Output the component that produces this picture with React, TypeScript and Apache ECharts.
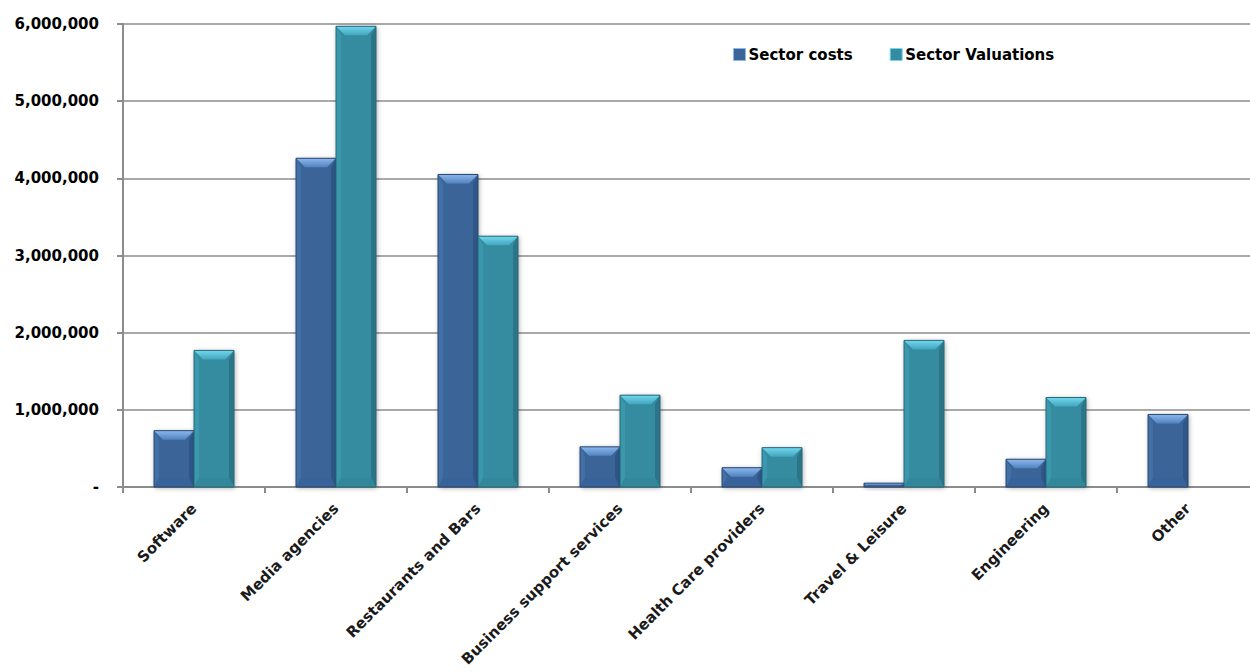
import React, { useEffect, useRef } from "react";
import * as echarts from "echarts";

const categories = [
  "Software",
  "Media agencies",
  "Restaurants and Bars",
  "Business support services",
  "Health Care providers",
  "Travel & Leisure",
  "Engineering",
  "Other",
];
const sectorCosts = [730000, 4260000, 4050000, 520000, 250000, 50000, 360000, 940000];
const sectorValuations = [1770000, 5970000, 3250000, 1190000, 510000, 1900000, 1160000, null];
const yTicks = [0, 1000000, 2000000, 3000000, 4000000, 5000000, 6000000];

const FONT = "DejaVu Sans";

const palettes = {
  cost: {
    main: "#3B6599",
    topA: "#8BB8EC",
    topB: "#5283C0",
    bottom: "#38629A",
    left: "#4270A6",
    right: "#30568A",
    border: "#2A4870",
  },
  val: {
    main: "#358B9F",
    topA: "#72D8EE",
    topB: "#42A6BE",
    bottom: "#33879A",
    left: "#3A97AC",
    right: "#2C7587",
    border: "#276A7A",
  },
};

function makeRenderItem(side: number, pal: any) {
  return (params: any, api: any) => {
    const idx = api.value(0);
    const val = api.value(1);
    if (val == null || isNaN(val) || val <= 0) return null;
    const top = api.coord([idx, val]);
    const base = api.coord([idx, 0]);
    const band = api.size([1, 0])[0];
    const w = band * (40 / 142);
    const x0 = side < 0 ? top[0] - w : top[0];
    const x1 = x0 + w;
    const y0 = top[1];
    const y1 = base[1];
    const h = y1 - y0;
    const b = Math.min(9, h / 2);
    const sb = Math.min(5, w / 4);
    return {
      type: "group",
      children: [
        {
          type: "rect",
          shape: { x: x0, y: y0, width: w, height: h },
          style: {
            fill: pal.main,
            shadowBlur: 5,
            shadowColor: "rgba(0,0,0,0.35)",
            shadowOffsetX: 1,
            shadowOffsetY: 1,
          },
        },
        {
          type: "polygon",
          shape: {
            points: [
              [x0, y0],
              [x0 + sb, y0 + b],
              [x0 + sb, y1 - b],
              [x0, y1],
            ],
          },
          style: { fill: pal.left },
        },
        {
          type: "polygon",
          shape: {
            points: [
              [x1, y0],
              [x1 - sb, y0 + b],
              [x1 - sb, y1 - b],
              [x1, y1],
            ],
          },
          style: { fill: pal.right },
        },
        {
          type: "polygon",
          shape: {
            points: [
              [x0, y1],
              [x0 + sb, y1 - b],
              [x1 - sb, y1 - b],
              [x1, y1],
            ],
          },
          style: { fill: pal.bottom },
        },
        {
          type: "polygon",
          shape: {
            points: [
              [x0, y0],
              [x1, y0],
              [x1 - b, y0 + b],
              [x0 + b, y0 + b],
            ],
          },
          style: {
            fill: new echarts.graphic.LinearGradient(0, 0, 0, 1, [
              { offset: 0, color: pal.topA },
              { offset: 1, color: pal.topB },
            ]),
          },
        },
        {
          type: "rect",
          shape: { x: x0, y: y0, width: w, height: h },
          style: { fill: "none", stroke: pal.border, lineWidth: 1 },
        },
      ],
    };
  };
}

export default function App() {
  const ref = useRef<HTMLDivElement>(null);
  useEffect(() => {
    if (!ref.current) return;
    const chart = echarts.init(ref.current, null, { renderer: "svg" });
    chart.setOption({
      animation: false,
      backgroundColor: "#ffffff",
      grid: {
        left: 123,
        top: 24,
        width: 1136,
        height: 463,
        containLabel: false,
        outerBoundsMode: "none",
      },
      legend: {
        left: 728,
        top: 42,
        itemWidth: 12,
        itemHeight: 12,
        itemGap: 37,
        icon: "rect",
        textStyle: { fontFamily: FONT, fontWeight: "bold", fontSize: 15, color: "#000", padding: [0, 0, 0, -2] },
        data: [
          { name: "Sector costs", itemStyle: { color: palettes.cost.main, borderColor: palettes.cost.topA, borderWidth: 1 } },
          { name: "Sector Valuations", itemStyle: { color: palettes.val.main, borderColor: palettes.val.topA, borderWidth: 1 } },
        ],
      },
      xAxis: {
        type: "category",
        data: categories,
        boundaryGap: true,
        axisLine: { show: true, lineStyle: { color: "#8C8C8C", width: 2 } },
        axisTick: { show: true, length: 6, lineStyle: { color: "#8C8C8C", width: 2 } },
        axisLabel: {
          rotate: 45,
          interval: 0,
          margin: 19,
          fontFamily: FONT,
          fontWeight: "bold",
          fontSize: 15,
          color: "#1a1a1a",
        },
        splitLine: { show: false },
      },
      yAxis: {
        type: "value",
        min: 0,
        max: 6000000,
        interval: 1000000,
        axisLine: { show: true, lineStyle: { color: "#8C8C8C", width: 2 } },
        axisTick: { show: true, length: 6, lineStyle: { color: "#8C8C8C", width: 2 } },
        splitLine: { show: true, lineStyle: { color: "#8C8C8C", width: 1.5 } },
        axisLabel: {
          margin: 24,
          fontFamily: FONT,
          fontWeight: "bold",
          fontSize: 15,
          color: "#000",
          customValues: yTicks,
          formatter: (v: number) => (v === 0 ? "-" : v.toLocaleString("en-US")),
        },
      },
      series: [
        {
          name: "Sector costs",
          type: "custom",
          itemStyle: { color: palettes.cost.main },
          encode: { x: 0, y: 1 },
          data: sectorCosts.map((v, i) => [i, v]),
          renderItem: makeRenderItem(-1, palettes.cost),
          clip: false,
        },
        {
          name: "Sector Valuations",
          type: "custom",
          itemStyle: { color: palettes.val.main },
          encode: { x: 0, y: 1 },
          data: sectorValuations.map((v, i) => [i, v]),
          renderItem: makeRenderItem(1, palettes.val),
          clip: false,
        },
      ],
    });
    return () => chart.dispose();
  }, []);
  return (
    <div
      ref={ref}
      style={{ position: "fixed", left: 0, top: 0, width: 1250, height: 672 }}
    />
  );
}
